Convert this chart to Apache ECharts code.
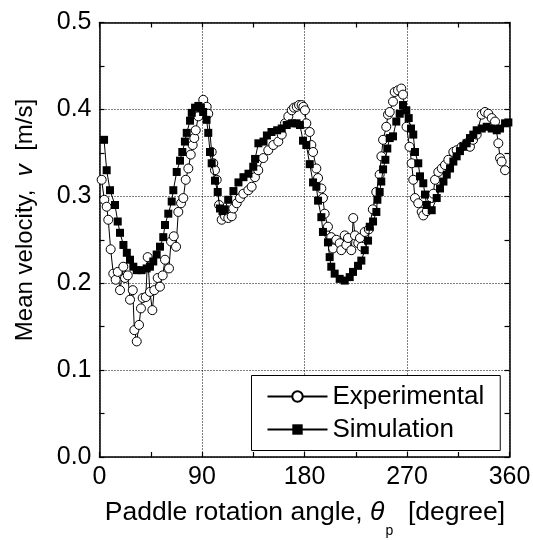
<!DOCTYPE html>
<html><head><meta charset="utf-8">
<script src="https://cdn.jsdelivr.net/npm/echarts@6/dist/echarts.min.js"></script>
<style>html,body{margin:0;padding:0;background:#fff}#c{width:533px;height:540px}</style>
</head><body><div id="c"></div>
<script>
const xTicks = [0, 90, 180, 270, 360];
const yTicks = [0.0, 0.1, 0.2, 0.3, 0.4, 0.5];
const seriesNames = ['Experimental', 'Simulation'];

const expAngle = [1.9,4.2,6.3,7.7,9.8,12.1,14.2,16.0,18.0,20.9,22.4,24.8,26.8,29.2,30.6,32.7,34.7,36.4,37.9,40.6,42.3,44.3,46.4,48.1,51.1,53.1,55.5,57.5,61.0,62.8,65.2,67.2,69.2,71.6,73.6,75.7,78.0,80.1,81.8,83.2,84.5,86.8,89.7,91.1,92.6,94.1,95.5,98.5,99.9,101.4,102.9,105.0,107.3,110.2,113.1,116.1,117.5,120.5,123.4,126.3,130.7,133.6,136.5,139.4,143.8,148.2,152.6,157.0,160.0,162.9,165.8,168.8,170.8,173.2,175.2,177.5,179.0,180.4,181.6,184.6,186.0,187.5,190.4,191.9,194.8,196.2,197.7,200.6,203.5,205.0,207.9,210.9,212.3,215.3,216.7,218.2,221.1,222.8,224.3,227.2,228.7,230.2,232.9,236.5,240.0,243.0,246.0,247.5,249.0,251.8,253.3,254.8,257.7,259.2,262.1,265.0,266.5,269.6,272.2,274.1,275.5,277.0,279.9,282.9,284.3,287.5,291.7,293.1,294.6,297.5,300.5,303.4,306.3,310.7,313.6,318.0,322.4,325.3,328.0,331.2,335.6,338.5,341.4,344.4,347.3,350.2,351.7,353.1,356.1];
const expValue = [0.319,0.296,0.288,0.273,0.239,0.211,0.204,0.213,0.192,0.219,0.206,0.209,0.181,0.192,0.146,0.133,0.152,0.171,0.183,0.184,0.230,0.190,0.169,0.192,0.206,0.196,0.209,0.227,0.217,0.248,0.254,0.242,0.282,0.292,0.298,0.319,0.332,0.348,0.359,0.367,0.376,0.392,0.401,0.411,0.400,0.403,0.395,0.351,0.338,0.330,0.319,0.290,0.273,0.277,0.275,0.277,0.286,0.292,0.298,0.303,0.307,0.311,0.322,0.330,0.344,0.353,0.359,0.363,0.371,0.384,0.392,0.399,0.402,0.403,0.405,0.405,0.403,0.399,0.384,0.374,0.359,0.351,0.332,0.321,0.309,0.298,0.280,0.265,0.253,0.240,0.250,0.246,0.238,0.255,0.244,0.252,0.238,0.275,0.255,0.246,0.252,0.242,0.259,0.262,0.285,0.305,0.325,0.346,0.365,0.380,0.394,0.397,0.409,0.420,0.422,0.424,0.417,0.380,0.357,0.338,0.319,0.298,0.292,0.282,0.278,0.283,0.298,0.303,0.319,0.328,0.332,0.336,0.342,0.351,0.353,0.357,0.361,0.357,0.365,0.371,0.394,0.397,0.395,0.390,0.386,0.361,0.344,0.340,0.330];

const simAngle = [4.0,6.3,9.2,13.6,16.0,18.0,21.0,24.0,26.8,29.7,32.7,37.0,41.4,44.3,47.2,50.2,53.1,56.0,57.5,60.4,63.4,64.8,67.8,70.7,72.7,75.0,76.6,79.5,81.0,83.9,86.8,89.0,91.0,94.0,95.5,97.0,98.5,101.4,103.8,105.8,108.0,110.0,113.0,117.6,122.0,126.4,130.8,135.0,136.6,139.5,144.0,147.0,151.0,156.0,160.0,164.4,169.0,173.0,176.0,178.7,181.6,184.6,187.5,190.4,191.9,194.8,196.2,200.6,202.1,203.5,206.5,210.9,215.3,219.7,222.6,227.0,229.9,232.9,235.8,237.3,240.2,243.1,244.0,246.0,247.4,249.0,251.0,252.7,254.8,257.7,260.6,263.6,266.5,269.4,271.5,273.5,275.5,277.0,279.9,281.4,284.3,285.8,287.3,291.7,296.1,299.0,302.0,304.9,307.8,310.7,313.6,316.5,319.4,322.4,325.3,328.2,331.2,335.6,340.0,344.4,348.8,351.7,356.1,359.0];
const simValue = [0.365,0.330,0.307,0.290,0.271,0.258,0.244,0.235,0.227,0.219,0.215,0.215,0.217,0.219,0.225,0.233,0.242,0.253,0.267,0.280,0.294,0.307,0.328,0.341,0.351,0.363,0.373,0.387,0.396,0.402,0.404,0.402,0.397,0.388,0.373,0.351,0.338,0.318,0.305,0.286,0.283,0.285,0.296,0.306,0.316,0.322,0.326,0.334,0.343,0.361,0.363,0.370,0.374,0.376,0.378,0.382,0.384,0.384,0.382,0.364,0.359,0.337,0.316,0.311,0.295,0.276,0.259,0.247,0.230,0.219,0.211,0.205,0.203,0.207,0.213,0.220,0.226,0.238,0.249,0.265,0.271,0.282,0.296,0.305,0.317,0.331,0.342,0.355,0.367,0.369,0.386,0.395,0.405,0.399,0.390,0.378,0.371,0.351,0.338,0.323,0.315,0.302,0.290,0.284,0.298,0.309,0.317,0.325,0.332,0.340,0.346,0.352,0.357,0.361,0.367,0.371,0.376,0.378,0.380,0.378,0.376,0.378,0.384,0.385];

const FONT = '"Liberation Sans", Arial, Helvetica, sans-serif';
const pair = (a, v) => a.map((x, i) => [x, v[i]]);

const xMin = xTicks[0], xMax = xTicks[xTicks.length - 1], xInt = xTicks[1] - xTicks[0];
const yMin = yTicks[0], yMax = yTicks[yTicks.length - 1], yInt = yTicks[1] - yTicks[0];

function axisCommon(showLabel, grid) {
  return {
    type: 'value',
    axisLine: { show: true, onZero: false, lineStyle: { color: '#000', width: 1.5 } },
    axisTick: { show: true, inside: true, length: 5, lineStyle: { color: '#000', width: 1.2 } },
    minorTick: { show: true, splitNumber: 2, length: 5, lineStyle: { color: '#000', width: 1.2 } },
    splitLine: { show: grid, lineStyle: { color: '#000', width: 1, type: [1, 2] } },
    minorSplitLine: { show: false },
    axisLabel: { show: showLabel, color: '#000', fontFamily: FONT, fontSize: 25, margin: 8 }
  };
}

const chart = echarts.init(document.getElementById('c'), null, { renderer: 'canvas' });
const option = {
  backgroundColor: '#fff',
  animation: false,
  grid: { left: 99.5, right: 23.5, top: 22.5, bottom: 83, containLabel: false, outerBoundsMode: 'none' },
  xAxis: [
    Object.assign(axisCommon(true, true), { min: xMin, max: xMax, interval: xInt, position: 'bottom' }),
    Object.assign(axisCommon(false, false), { min: xMin, max: xMax, interval: xInt, position: 'top' })
  ],
  yAxis: [
    Object.assign(axisCommon(true, true), { min: yMin, max: yMax, interval: yInt, position: 'left',
      axisLabel: { show: true, color: '#000', fontFamily: FONT, fontSize: 25, margin: 8, formatter: v => v.toFixed(1) } }),
    Object.assign(axisCommon(false, false), { min: yMin, max: yMax, interval: yInt, position: 'right' })
  ],
  legend: {
    show: true,
    data: seriesNames,
    orient: 'vertical',
    left: 251.5, top: 375.5,
    itemWidth: 60, itemHeight: 13, itemGap: 7,
    padding: [8, 16, 8, 15],
    borderColor: '#000', borderWidth: 1, borderRadius: 0,
    backgroundColor: '#fff',
    textStyle: { color: '#000', fontFamily: FONT, fontSize: 26, lineHeight: 26 }
  },
  series: [
    {
      name: seriesNames[0], type: 'line', xAxisIndex: 0, yAxisIndex: 0,
      data: pair(expAngle, expValue),
      symbol: 'circle', symbolSize: 9, showSymbol: true,
      lineStyle: { color: '#000', width: 1 },
      itemStyle: { color: '#fff', borderColor: '#000', borderWidth: 1 },
      emphasis: { disabled: true }, z: 2
    },
    {
      name: seriesNames[1], type: 'line', xAxisIndex: 0, yAxisIndex: 0,
      data: pair(simAngle, simValue),
      symbol: 'rect', symbolSize: 8, showSymbol: true,
      lineStyle: { color: '#000', width: 1 },
      itemStyle: { color: '#000', borderColor: '#000', borderWidth: 0 },
      emphasis: { disabled: true }, z: 3
    }
  ],
  graphic: [
    {
      type: 'text', x: 25, y: 220, rotation: Math.PI / 2,
      style: {
        text: '{a|Mean velocity,  }{i|v}{a|  [m/s]}',
        align: 'center', verticalAlign: 'middle',
        rich: {
          a: { fontFamily: FONT, fontSize: 24, fill: '#000', color: '#000' },
          i: { fontFamily: FONT, fontSize: 24, fontStyle: 'italic', fill: '#000', color: '#000' }
        }
      }
    },
    {
      type: 'text', x: 305, y: 513,
      style: {
        text: '{a|Paddle rotation angle, }{i|θ}{s|p}{a|  [degree]}',
        align: 'center', verticalAlign: 'middle',
        rich: {
          a: { fontFamily: FONT, fontSize: 26.5, fill: '#000', color: '#000' },
          i: { fontFamily: FONT, fontSize: 26.5, fontStyle: 'italic', fill: '#000', color: '#000' },
          s: { fontFamily: FONT, fontSize: 14, fill: '#000', color: '#000', padding: [36, 0, 0, 1] }
        }
      }
    }
  ]
};
chart.setOption(option);
</script>
</body></html>
